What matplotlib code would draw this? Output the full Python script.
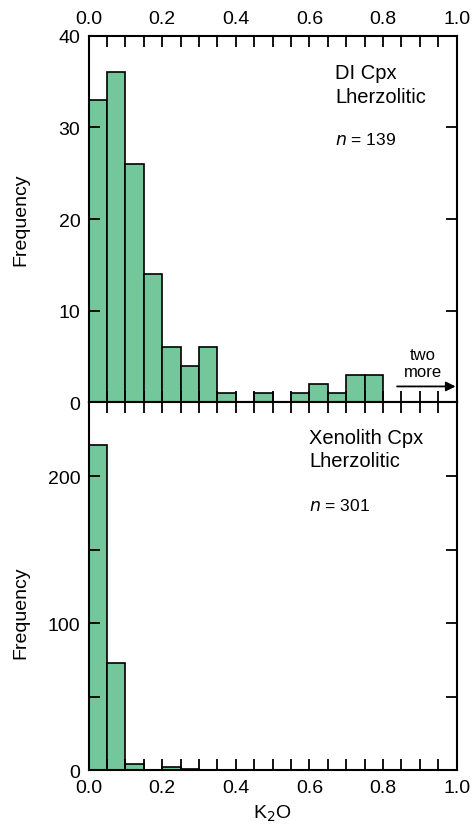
import matplotlib
matplotlib.use('Agg')
import matplotlib.pyplot as plt
import numpy as np

plt.rcParams['font.family'] = ['Liberation Sans', 'DejaVu Sans']

# K2O histograms, 0.05 wt% bins
bin_width = 0.05
di_counts = [33, 36, 26, 14, 6, 4, 6, 1, 0, 1, 0, 1, 2, 1, 3, 3]
xeno_counts = [221, 73, 4, 0, 2, 1]
di_edges = np.arange(len(di_counts)) * bin_width
xeno_edges = np.arange(len(xeno_counts)) * bin_width

bar_color = '#73c79a'
x_major = [0.0, 0.2, 0.4, 0.6, 0.8, 1.0]
x_minor = np.arange(0, 1.0001, 0.05)

fig = plt.figure(figsize=(4.74, 8.28), dpi=100)
left, width = 0.187, 0.7765
ax1 = fig.add_axes([left, 0.5127, width, 0.4430])
ax2 = fig.add_axes([left, 0.0684, width, 0.4443])


def style(ax):
    for sp in ax.spines.values():
        sp.set_linewidth(1.5)
    ax.set_xlim(0, 1.0)
    ax.set_xticks(x_major)
    ax.set_xticks(x_minor, minor=True)
    ax.tick_params(which='both', direction='in', top=True, right=True,
                   width=1.3, labelsize=14, pad=6)
    ax.tick_params(which='major', length=8)
    ax.tick_params(which='minor', length=8)
    ax.set_xticklabels(['0.0', '0.2', '0.4', '0.6', '0.8', '1.0'])


# upper panel: DI clinopyroxene
ax1.bar(di_edges, di_counts, width=bin_width, align='edge',
        color=bar_color, edgecolor='black', linewidth=1.2)
style(ax1)
ax1.set_ylim(0, 40)
ax1.set_yticks([0, 10, 20, 30, 40])
ax1.xaxis.set_ticks_position('both')
ax1.tick_params(axis='x', which='both', labelbottom=False, labeltop=True)
ax1.set_ylabel('Frequency', fontsize=14)
ax1.yaxis.set_label_coords(-0.162, 0.5)
ax1.text(0.67, 37.0, 'DI Cpx\nLherzolitic', fontsize=14.5, va='top',
         ha='left', linespacing=1.3)
ax1.text(0.67, 27.9, r'$n$ = 139', fontsize=12.5, va='bottom', ha='left')
ax1.annotate('', xy=(0.997, 1.75), xytext=(0.838, 1.75),
             arrowprops=dict(arrowstyle='-|>', color='black', lw=1.3,
                             mutation_scale=14, shrinkA=0, shrinkB=0))
ax1.text(0.908, 2.6, 'two\nmore', fontsize=12, ha='center', va='bottom',
         linespacing=1.15)

# lower panel: xenolith clinopyroxene
ax2.bar(xeno_edges, xeno_counts, width=bin_width, align='edge',
        color=bar_color, edgecolor='black', linewidth=1.2)
style(ax2)
ax2.set_ylim(0, 250)
ax2.set_yticks([0, 100, 200])
ax2.set_yticks([50, 150], minor=True)
ax2.set_ylabel('Frequency', fontsize=14)
ax2.yaxis.set_label_coords(-0.162, 0.43)
ax2.set_xlabel('K$_2$O', fontsize=14, labelpad=5)
ax2.text(0.60, 233, 'Xenolith Cpx\nLherzolitic', fontsize=14.5, va='top',
         ha='left', linespacing=1.3)
ax2.text(0.60, 175, r'$n$ = 301', fontsize=12.5, va='bottom', ha='left')

fig.savefig('out.png', dpi=100)
